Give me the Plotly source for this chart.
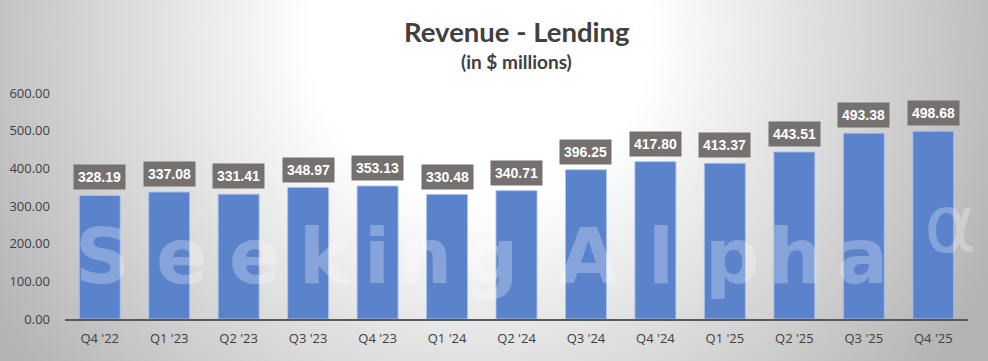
import base64
import plotly.graph_objects as go

categories = ["Q4 '22", "Q1 '23", "Q2 '23", "Q3 '23", "Q4 '23", "Q1 '24", "Q2 '24",
              "Q3 '24", "Q4 '24", "Q1 '25", "Q2 '25", "Q3 '25", "Q4 '25"]
revenue = [328.19, 337.08, 331.41, 348.97, 353.13, 330.48, 340.71,
           396.25, 417.80, 413.37, 443.51, 493.38, 498.68]
y_ticks = [0, 100, 200, 300, 400, 500, 600]

FW, FH = 988, 361
ML, MR, MT, MB = 65, 20, 93, 42
PW, PH = FW - ML - MR, FH - MT - MB

svg = f'''<svg xmlns="http://www.w3.org/2000/svg" width="{FW}" height="{FH}" viewBox="0 0 {FW} {FH}" preserveAspectRatio="none">
<defs><radialGradient id="g" gradientUnits="userSpaceOnUse" cx="480" cy="35" r="560">
<stop offset="0" stop-color="#ffffff"/><stop offset="0.3" stop-color="#ffffff"/>
<stop offset="1" stop-color="#b4b4b4"/></radialGradient></defs>
<rect x="0" y="0" width="{FW}" height="{FH}" fill="url(#g)"/></svg>'''
bg_uri = "data:image/svg+xml;base64," + base64.b64encode(svg.encode()).decode()


def px_x(px):
    return (px - ML) / PW


def px_y(py):
    return (FH - MB - py) / PH


fig = go.Figure()
fig.add_trace(go.Bar(
    x=categories, y=revenue,
    marker=dict(color="#5A83CB", line=dict(color="rgba(170,195,240,0.9)", width=1)),
    hoverinfo="skip",
))

annotations = []
for c, v in zip(categories, revenue):
    annotations.append(dict(
        x=c, y=v, xref="x", yref="y", text=f"<b>{v:.2f}</b>", showarrow=False,
        yanchor="bottom", yshift=5, bgcolor="#767171", borderpad=4,
        font=dict(family="Liberation Sans", size=14, color="white"),
    ))

# title and subtitle
annotations.append(dict(x=0.5, y=px_y(32), xref="paper", yref="paper", xanchor="center",
                        yanchor="middle", showarrow=False, text="<b>Revenue - Lending</b>",
                        font=dict(family="Lato", size=27.5, color="#404040")))
annotations.append(dict(x=0.5, y=px_y(61), xref="paper", yref="paper", xanchor="center",
                        yanchor="middle", showarrow=False, text="<b>(in $ millions)</b>",
                        font=dict(family="Lato", size=19, color="#404040")))

# watermark (letter by letter, to mimic its wide spacing)
wm_color = "rgba(255,255,255,0.27)"
wm_font = dict(family="DejaVu Sans", size=76, color=wm_color, weight="bold")
wm_letters = [("S", 102), ("e", 182), ("e", 255), ("k", 325), ("i", 377), ("n", 425),
              ("g", 491), ("A", 588), ("l", 661), ("p", 732), ("h", 795), ("a", 862)]
for ch, cx in wm_letters:
    annotations.append(dict(
        x=px_x(cx), y=px_y(303), xref="paper", yref="paper", xanchor="center",
        yanchor="bottom", showarrow=False, text=ch, font=wm_font,
    ))
annotations.append(dict(
    x=px_x(950), y=px_y(224), xref="paper", yref="paper", xanchor="center",
    yanchor="middle", showarrow=False, text="α",
    font=dict(family="DejaVu Sans", size=80, color=wm_color),
))

fig.update_layout(
    width=FW, height=FH,
    margin=dict(l=ML, r=MR, t=MT, b=MB, autoexpand=False),
    paper_bgcolor="#d0d0d0", plot_bgcolor="rgba(0,0,0,0)",
    bargap=0.41,
    showlegend=False,
    annotations=annotations,
    images=[dict(source=bg_uri, xref="paper", yref="paper",
                 x=-ML / PW, y=1 + MT / PH, sizex=FW / PW, sizey=FH / PH,
                 xanchor="left", yanchor="top", sizing="stretch", layer="below")],
    xaxis=dict(showline=True, linecolor="#595959", linewidth=2, showgrid=False,
               tickfont=dict(family="Open Sans", size=13, color="#404040"),
               ticks="", ticklabelstandoff=6, automargin=False),
    yaxis=dict(range=[0, 600], tickvals=y_ticks, tickformat=".2f", showgrid=False,
               zeroline=False, showline=False,
               tickfont=dict(family="Open Sans", size=13, color="#404040"),
               ticks="", ticklabelstandoff=14, automargin=False),
)

fig.write_html("out.html", config={"displayModeBar": False},
               post_script="document.body.style.margin='0';document.body.style.overflow='hidden';")
